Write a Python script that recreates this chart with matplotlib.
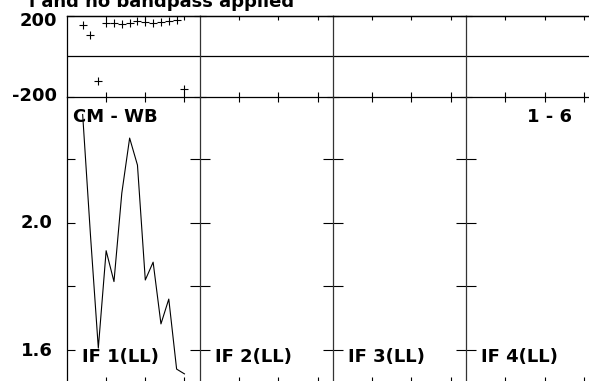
import numpy as np
import matplotlib
matplotlib.use("Agg")
import matplotlib.pyplot as plt

# channel numbers and the values (only IF 1 has data)
channels = [2, 3, 4, 5, 6, 7, 8, 9, 10, 11, 12, 13, 14, 15]
phase = [155, 105, -121, 167, 167, 160, 167, 175, 169, 167, 169, 174, 180, -162]
amp = [2.34, 1.96, 1.606, 1.912, 1.815, 2.093, 2.266, 2.181, 1.820, 1.876,
       1.682, 1.760, 1.540, 1.525]
if_labels = ["IF 1(LL)", "IF 2(LL)", "IF 3(LL)", "IF 4(LL)"]
source_label = "CM - WB"
baseline_label = "1 - 6"
title = "l and no bandpass applied"

W, H = 589, 381
fig = plt.figure(figsize=(W / 100, H / 100), dpi=100)

def px_axes(left, top, width, height):
    return fig.add_axes([left / W, 1 - (top + height) / H, width / W, height / H])

font = dict(family="DejaVu Sans", fontweight="bold", fontsize=13)

col_w = 133.1
x0 = 67
ph_top, ph_bot = 16, 96.7
amp_bot = 383

for c in range(4):
    left = x0 + c * col_w
    axp = px_axes(left, ph_top, col_w, ph_bot - ph_top)
    axa = px_axes(left, ph_bot, col_w, amp_bot - ph_bot)

    for ax in (axp, axa):
        ax.set_xlim(0, 17)
        ax.set_xticks([5, 10, 15])
        ax.set_xticklabels([])
        ax.patch.set_alpha(0)
        for s in ax.spines.values():
            s.set_linewidth(0.9)
        ax.spines["right"].set_visible(False)
        ax.spines["left"].set_color("#333333" if c > 0 else "black")

    axp.set_ylim(-200, 200)
    axp.set_yticks([-200, 200])
    axp.set_yticklabels([])
    axp.axhline(0, color="black", lw=0.9)
    axp.tick_params(axis="x", top=False, bottom=True,
                    direction="inout", length=7, width=0.8)
    axp.tick_params(axis="y", direction="in" if c == 0 else "inout",
                    length=5 if c == 0 else 8, width=0.8)
    # short inward ticks along the top frame
    top = axp.secondary_xaxis("top")
    top.set_xticks([5, 10, 15])
    top.set_xticklabels([])
    top.tick_params(direction="in", length=3, width=0.8)
    top.spines["top"].set_linewidth(0.9)

    axa.set_ylim(1.4963, 2.396)
    axa.set_yticks([1.6, 1.8, 2.0, 2.2])
    axa.set_yticklabels([])
    axa.spines["top"].set_visible(False)
    axa.spines["bottom"].set_visible(False)
    axa.tick_params(axis="x", bottom=True, direction="in", length=4, width=0.8)
    axa.tick_params(axis="y", direction="in" if c == 0 else "inout",
                    length=6 if c == 0 else 14, width=0.8)

    if c == 0:
        axp.plot(channels, phase, ls="none", marker="+", ms=5.8,
                 mew=0.8, color="black")
        axa.plot(channels, amp, color="black", lw=0.8)

    fig.text((left + 15) / W, 1 - 357 / H, if_labels[c], ha="left",
             va="center", **font)

# axis value labels on the left
fig.text(57 / W, 1 - 21 / H, "200", ha="right", va="center", **font)
fig.text(57 / W, 1 - 96.5 / H, "-200", ha="right", va="center", **font)
fig.text(53 / W, 1 - 222.7 / H, "2.0", ha="right", va="center", **font)
fig.text(53 / W, 1 - 351 / H, "1.6", ha="right", va="center", **font)

fig.text(73 / W, 1 - 117 / H, source_label, ha="left", va="center", **font)
fig.text(572 / W, 1 - 117 / H, baseline_label, ha="right", va="center", **font)
fig.text(294 / W, 1 - 6.7 / H, title, ha="right", va="baseline", **font)

fig.savefig("out.png", dpi=100)
